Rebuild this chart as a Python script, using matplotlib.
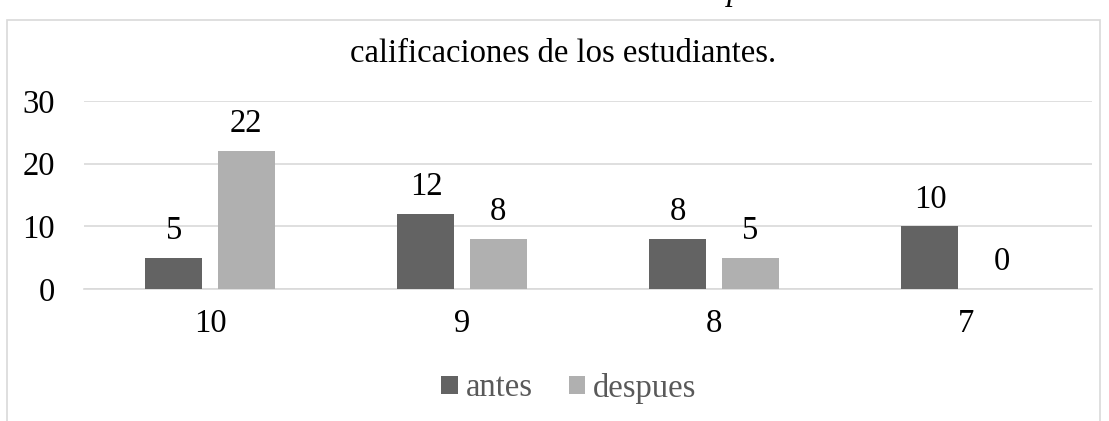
import matplotlib
matplotlib.use("Agg")
import matplotlib.pyplot as plt
from matplotlib.patches import Rectangle, Patch
import numpy as np

categories = ["10", "9", "8", "7"]
antes = [5, 12, 8, 10]
despues = [22, 8, 5, 0]
series_names = ["antes", "despues"]
title = "calificaciones de los estudiantes."
yticks = [0, 10, 20, 30]

plt.rcParams['font.family'] = ['Liberation Serif', 'DejaVu Serif']
W, H = 1109, 421
FS = 23.5
fig = plt.figure(figsize=(W/100, H/100), dpi=100)

# chart border (bottom cut off)
fig.patches.append(Rectangle((7/W, -0.1), (1100-7)/W, 1.1 - 20/H, transform=fig.transFigure,
                             fill=False, edgecolor='#d9d9d9', linewidth=1.2))
# clipped text from document above
fig.text(735/W, 1 + 8/H, "p", fontsize=FS, style='italic', ha='center', va='center')

ax = fig.add_axes([84/W, 1-289/H, (1092-84)/W, (289-101)/H])
x = np.arange(len(categories))
w = 0.226
off = 0.143
c1, c2 = '#636363', '#b0b0b0'
b1 = ax.bar(x - off, antes, w, color=c1, zorder=3)
b2 = ax.bar(x + off, despues, w, color=c2, zorder=3)
for bars in (b1, b2):
    for r in bars:
        ax.annotate(f"{int(r.get_height())}", (r.get_x() + r.get_width()/2, r.get_height()),
                    xytext=(0, 13.5), textcoords='offset points', ha='center', va='baseline',
                    fontsize=FS, color='black')
ax.set_xlim(-0.5, len(categories) - 0.5)
ax.set_ylim(0, 30)
ax.set_yticks(yticks)
ax.set_xticks(x)
ax.set_xticklabels(categories)
ax.tick_params(axis='both', length=0, labelsize=FS, colors='black')
ax.tick_params(axis='x', pad=14)
ax.tick_params(axis='y', pad=21)
ax.grid(axis='y', color='#d9d9d9', linewidth=1.2, zorder=0)
for s in ['top', 'right', 'left']:
    ax.spines[s].set_visible(False)
ax.spines['bottom'].set_color('#d9d9d9')
ax.spines['bottom'].set_linewidth(1.2)

fig.text(563/W, 1-62/H, title, fontsize=FS, ha='center', va='baseline')

handles = [Patch(facecolor=c1), Patch(facecolor=c2)]
leg = fig.legend(handles, series_names, loc='center', bbox_to_anchor=(569/W, 1-388/H), ncol=2,
                 frameon=False, fontsize=FS, handlelength=0.5, handleheight=0.5,
                 handletextpad=0.25, columnspacing=1.1)
for t in leg.get_texts():
    t.set_color('#595959')

fig.savefig("out.png", dpi=100)
